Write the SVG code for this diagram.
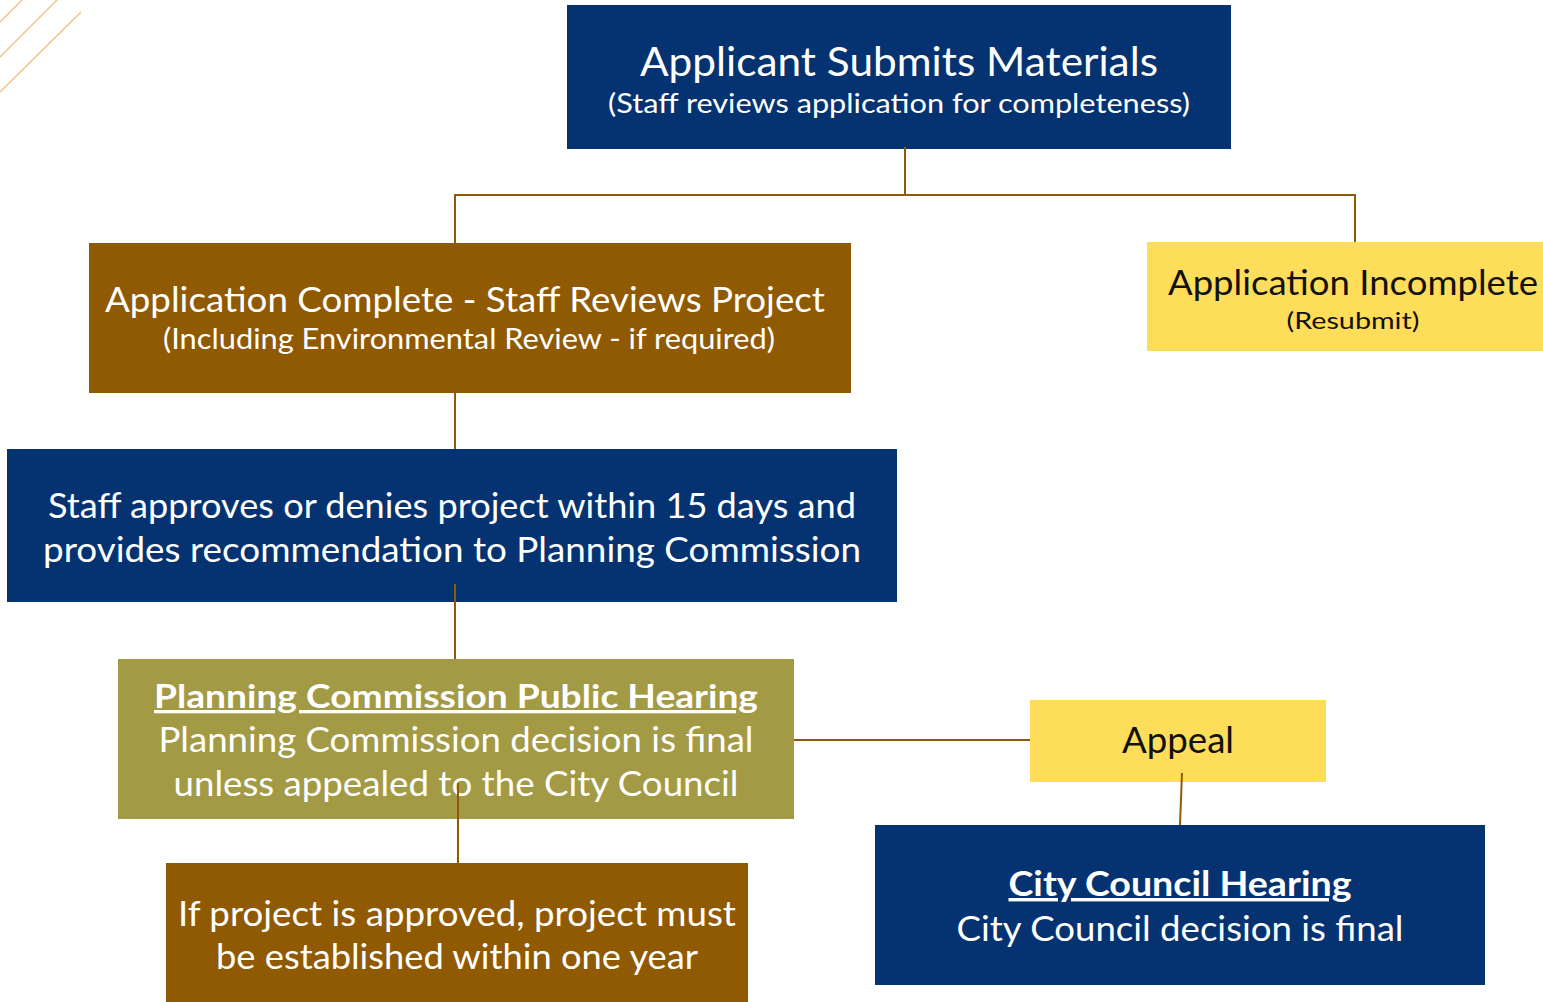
<svg xmlns="http://www.w3.org/2000/svg" width="1543" height="1002" viewBox="0 0 1543 1002">
  <style>
    .navy { fill: #053372; }
    .brown { fill: #8F5A02; }
    .olive { fill: #A39A45; }
    .yellow { fill: #FEDD5A; }
    .t { font-family: Lato, "Noto Sans", "Liberation Sans", sans-serif; text-anchor: middle; }
    .w { fill: #FFFFFF; }
    .k { fill: #111111; }
    .b { font-weight: bold; text-decoration: underline; }
    .conn { stroke: #8E5A0A; stroke-width: 2; fill: none; }
    .deco { stroke: #F3C189; stroke-width: 1.5; fill: none; }
  </style>

  <!-- corner ornament -->
  <g id="ornament">
    <line class="deco" x1="0" y1="22" x2="22" y2="0"/>
    <line class="deco" x1="0" y1="57" x2="57" y2="0"/>
    <line class="deco" x1="0" y1="92" x2="81" y2="12"/>
  </g>

  <g id="node-submit">
    <rect class="navy" x="567" y="5" width="664" height="144"/>
    <text class="t w" x="899" y="76" font-size="40" textLength="518" lengthAdjust="spacingAndGlyphs">Applicant Submits Materials</text>
    <text class="t w" x="899" y="113" font-size="27" textLength="582" lengthAdjust="spacingAndGlyphs">(Staff reviews application for completeness)</text>
  </g>

  <g id="node-complete">
    <rect class="brown" x="89" y="243" width="762" height="150"/>
    <text class="t w" x="465" y="312" font-size="34" textLength="720" lengthAdjust="spacingAndGlyphs">Application Complete - Staff Reviews Project</text>
    <text class="t w" x="469" y="349" font-size="28" textLength="612" lengthAdjust="spacingAndGlyphs">(Including Environmental Review - if required)</text>
  </g>

  <g id="node-incomplete">
    <rect class="yellow" x="1147" y="242" width="396" height="109"/>
    <text class="t k" x="1353" y="295" font-size="34" textLength="370" lengthAdjust="spacingAndGlyphs">Application Incomplete</text>
    <text class="t k" x="1353" y="329" font-size="24" textLength="133" lengthAdjust="spacingAndGlyphs">(Resubmit)</text>
  </g>

  <g id="node-staff">
    <rect class="navy" x="7" y="449" width="890" height="153"/>
    <text class="t w" x="452" y="518" font-size="34" textLength="808" lengthAdjust="spacingAndGlyphs">Staff approves or denies project within 15 days and</text>
    <text class="t w" x="452" y="562" font-size="34" textLength="818" lengthAdjust="spacingAndGlyphs">provides recommendation to Planning Commission</text>
  </g>

  <g id="node-planning">
    <rect class="olive" x="118" y="659" width="676" height="160"/>
    <text class="t w b" x="456" y="708" font-size="33" textLength="604" lengthAdjust="spacingAndGlyphs">Planning Commission Public Hearing</text>
    <text class="t w" x="456" y="752" font-size="34" textLength="595" lengthAdjust="spacingAndGlyphs">Planning Commission decision is final</text>
    <text class="t w" x="456" y="796" font-size="34" textLength="565" lengthAdjust="spacingAndGlyphs">unless appealed to the City Council</text>
  </g>

  <g id="node-approved">
    <rect class="brown" x="166" y="863" width="582" height="139"/>
    <text class="t w" x="457" y="926" font-size="34" textLength="558" lengthAdjust="spacingAndGlyphs">If project is approved, project must</text>
    <text class="t w" x="457" y="969" font-size="34" textLength="482" lengthAdjust="spacingAndGlyphs">be established within one year</text>
  </g>

  <g id="node-appeal">
    <rect class="yellow" x="1030" y="700" width="296" height="82"/>
    <text class="t k" x="1178" y="753" font-size="36" textLength="112" lengthAdjust="spacingAndGlyphs">Appeal</text>
  </g>

  <g id="node-council">
    <rect class="navy" x="875" y="825" width="610" height="160"/>
    <text class="t w b" x="1180" y="896" font-size="34" textLength="343" lengthAdjust="spacingAndGlyphs">City Council Hearing</text>
    <text class="t w" x="1180" y="941" font-size="34" textLength="447" lengthAdjust="spacingAndGlyphs">City Council decision is final</text>
  </g>

  <!-- connectors, drawn last; some start a little inside their source box -->
  <g id="connectors">
    <polyline class="conn" points="905,147 905,195"/>
    <polyline class="conn" points="455,243 455,195 1355,195 1355,242"/>
    <line class="conn" x1="455" y1="393" x2="455" y2="449"/>
    <line class="conn" x1="455" y1="584" x2="455" y2="659"/>
    <line class="conn" x1="458" y1="783" x2="458" y2="863"/>
    <line class="conn" x1="794" y1="740" x2="1030" y2="740"/>
    <line class="conn" x1="1182" y1="773" x2="1180" y2="825"/>
  </g>
</svg>
